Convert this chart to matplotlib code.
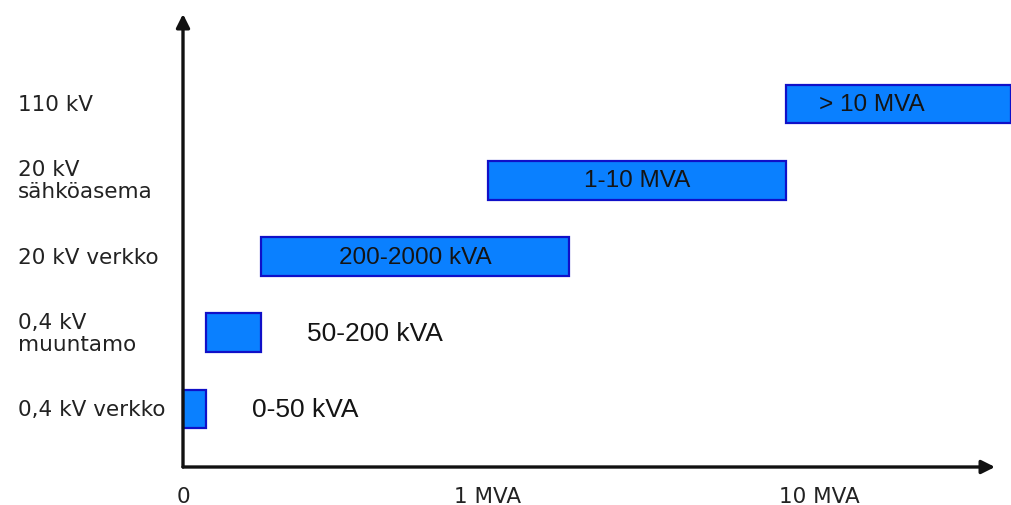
import matplotlib.pyplot as plt
import numpy as np
from matplotlib.transforms import offset_copy

# voltage levels, bottom to top
levels = ["0,4 kV verkko", "0,4 kV\nmuuntamo", "20 kV verkko", "20 kV\nsähköasema", "110 kV"]
# power range per level, kVA (upper of the last one is open-ended)
low_kva = [0, 50, 200, 1000, 10000]
high_kva = [50, 200, 2000, 10000, 21000]
range_labels = ["0-50 kVA", "50-200 kVA", "200-2000 kVA", "1-10 MVA", "> 10 MVA"]
label_inside = [False, False, True, True, True]

tick_values = [0, 1000, 10000]
tick_labels = ["0", "1 MVA", "10 MVA"]

# schematic power axis: piecewise linear between these anchor points
scale_kva = np.array([0, 50, 200, 1000, 2000, 10000, 20000], dtype=float)
scale_pos = np.array([0, 23, 78, 305, 386, 603, 828], dtype=float)


def forward(x):
    return np.interp(x, scale_kva, scale_pos)


def inverse(p):
    return np.interp(p, scale_pos, scale_kva)


fig = plt.figure(figsize=(10.11, 5.06), dpi=100)
ax = fig.add_axes([183 / 1011, 38 / 506, 812 / 1011, 453 / 506])
ax.set_xscale("function", functions=(forward, inverse))
ax.set_xlim(0, inverse(812))
ax.set_ylim(-0.76, 5.18)

bar_fill = "#0a80ff"
bar_edge = "#1010c8"
bar_font = ["Liberation Sans", "DejaVu Sans"]

for i in range(len(levels)):
    ax.barh(
        i,
        high_kva[i] - low_kva[i],
        left=low_kva[i],
        height=0.51,
        color=bar_fill,
        edgecolor=bar_edge,
        linewidth=1.6,
        clip_on=False,
    )

    if label_inside[i] and i < len(levels) - 1:
        mid = inverse((forward(low_kva[i]) + forward(high_kva[i])) / 2)
        ax.text(mid, i, range_labels[i], ha="center", va="center",
                fontsize=17.5, family=bar_font, color="#141414")
    elif label_inside[i]:
        ax.annotate(range_labels[i], (low_kva[i], i), xytext=(33, 0),
                    textcoords="offset pixels", ha="left", va="center",
                    fontsize=17.5, family=bar_font, color="#141414")
    else:
        ax.annotate(range_labels[i], (high_kva[i], i), xytext=(46, 0),
                    textcoords="offset pixels", ha="left", va="center",
                    fontsize=19, family=bar_font, color="#141414")

# level names on the left
for i, name in enumerate(levels):
    ax.text(-165 / 812, i, name, transform=ax.get_yaxis_transform(),
            ha="left", va="center", fontsize=15.5, color="#222222",
            linespacing=1.12)

# power ticks under the axis, without tick marks
for value, text in zip(tick_values, tick_labels):
    shift = 33 if value == 10000 else 0
    trans = offset_copy(ax.get_xaxis_transform(), fig=fig, x=shift, y=0, units="dots")
    ax.text(value, -29 / 453, text, transform=trans, ha="center", va="center",
            fontsize=15.5, color="#222222")

for side in ["left", "bottom", "top", "right"]:
    ax.spines[side].set_visible(False)
ax.set_xticks([])
ax.set_yticks([])

# arrowed axes
arrow = dict(arrowstyle="-|>", lw=2.4, color="#111111", mutation_scale=20,
             shrinkA=0, shrinkB=0)
ax.annotate("", xy=(1, 0), xytext=(0, 0), xycoords="axes fraction", arrowprops=arrow)
ax.annotate("", xy=(0, 1), xytext=(0, 0), xycoords="axes fraction", arrowprops=arrow)

fig.savefig("out.png", dpi=100)
plt.close(fig)
